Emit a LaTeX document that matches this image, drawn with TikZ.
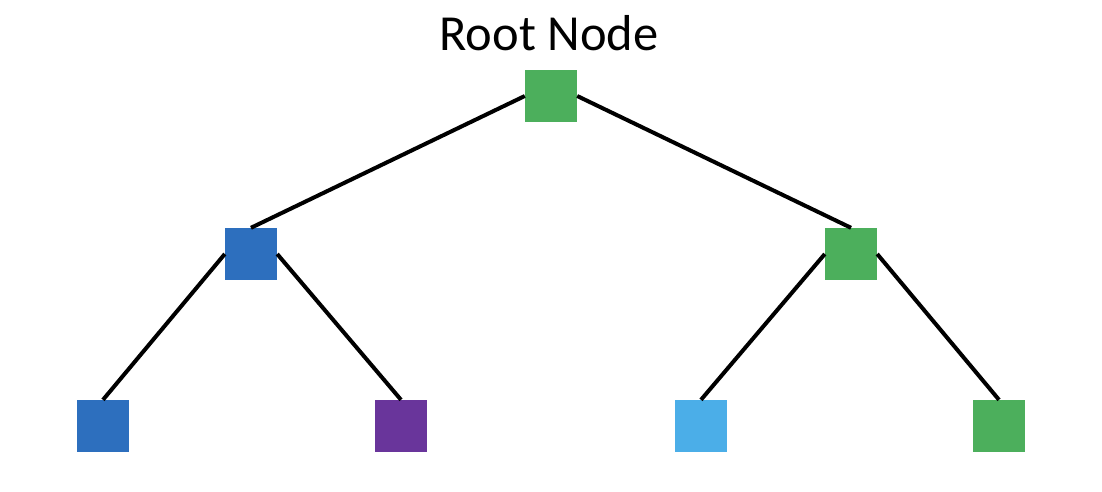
\documentclass[tikz,border=0pt]{standalone}
\usepackage{fontspec}
\setmainfont{Carlito}
\definecolor{nodegreen}{HTML}{4CAF5C}
\definecolor{nodeblue}{HTML}{2D6FBE}
\definecolor{nodepurple}{HTML}{69359B}
\definecolor{nodesky}{HTML}{4BAEE8}
\tikzset{sq/.style={minimum size=52pt,inner sep=0pt,draw=none},
edge/.style={line width=4pt,black}}
\begin{document}
\begin{tikzpicture}[x=1pt,y=-1pt]
\useasboundingbox (0,0) rectangle (1102,492);

\node [sq,fill=nodegreen] (root) at (551,96) {};
\node [sq,fill=nodeblue] (left) at (251,254) {};
\node [sq,fill=nodegreen] (right) at (851,254) {};

\node [sq,fill=nodeblue] (ll) at (103,426) {};
\node [sq,fill=nodepurple] (lr) at (401,426) {};
\node [sq,fill=nodesky] (rl) at (701,426) {};
\node [sq,fill=nodegreen] (rr) at (999,426) {};

\node [anchor=base,font=\fontsize{50.5}{55}\selectfont] (title) at (549,51) {Root Node};

\draw [edge] (root.west) -- (left.north);
\draw [edge] (root.east) -- (right.north);
\draw [edge] (left.west) -- (ll.north);
\draw [edge] (left.east) -- (lr.north);
\draw [edge] (right.west) -- (rl.north);
\draw [edge] (right.east) -- (rr.north);
\end{tikzpicture}
\end{document}
